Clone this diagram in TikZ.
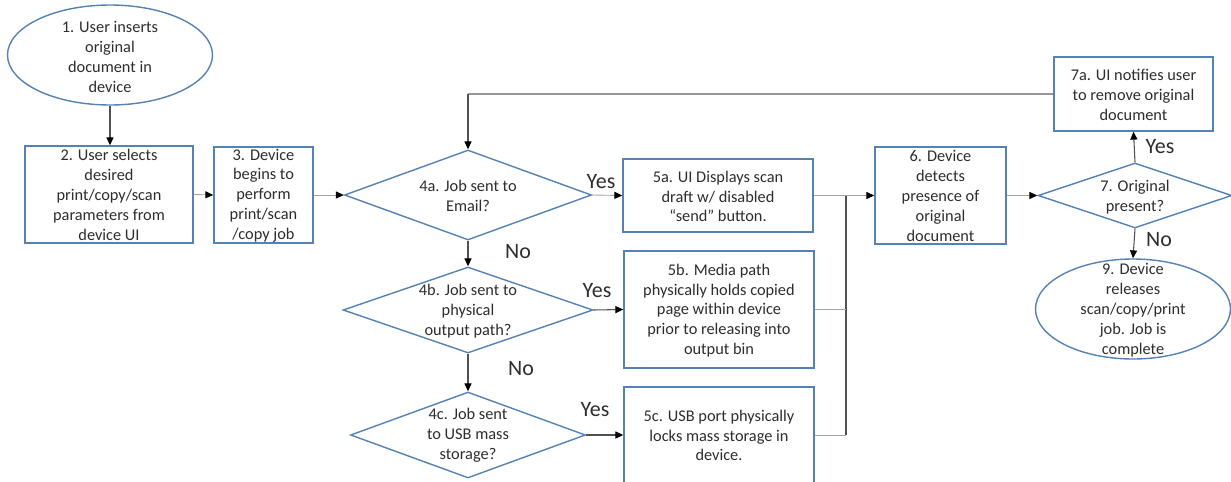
\documentclass[tikz,border=0pt]{standalone}
\usepackage{fontspec}
\setmainfont{Carlito}
\usetikzlibrary{shapes.geometric,arrows.meta}
\definecolor{bord}{RGB}{84,130,181}
\definecolor{txtc}{RGB}{45,45,45}
\definecolor{lgray}{RGB}{165,165,165}
\definecolor{mgray}{RGB}{150,150,150}
\definecolor{dgray}{RGB}{80,80,80}
\begin{document}
\begin{tikzpicture}[x=0.2mm,y=-0.2mm,
  shp/.style={draw=bord,line width=0.8pt,fill=white,inner sep=0pt},
  boxs/.style={shp,rectangle},
  dia/.style={shp,diamond},
  ell/.style={shp,ellipse},
  txt/.style={font=\fontsize{9.3}{11.3}\selectfont,align=center,text=txtc,inner sep=0pt},
  yn/.style={font=\fontsize{12.5}{14}\selectfont,text=txtc,inner sep=0pt},
  tip/.style={-{Triangle[length=4.5pt,width=4pt,color=black]}},
  lg/.style={draw=lgray,line width=0.5pt},
  dg/.style={draw=dgray,line width=0.6pt},
  fb/.style={draw=mgray,line width=1.1pt}
]
\useasboundingbox (0,0) rectangle (1231,481);
\clip (0,0) rectangle (1231,481);

% shapes
\node[ell,minimum width=205*0.2mm,minimum height=100*0.2mm] (e1) at (110,55) {};
\node[boxs,minimum width=168*0.2mm,minimum height=97*0.2mm] (b2) at (109,194.5) {};
\node[boxs,minimum width=99*0.2mm,minimum height=96*0.2mm] (b3) at (263.5,195) {};
\node[dia,minimum width=247*0.2mm,minimum height=90*0.2mm] (d4a) at (468,195) {};
\node[dia,minimum width=250*0.2mm,minimum height=86*0.2mm] (d4b) at (468,310) {};
\node[dia,minimum width=235*0.2mm,minimum height=86*0.2mm] (d4c) at (468,435) {};
\node[boxs,minimum width=190*0.2mm,minimum height=73*0.2mm] (b5a) at (718,195.5) {};
\node[boxs,minimum width=190*0.2mm,minimum height=117*0.2mm] (b5b) at (719,309.5) {};
\node[boxs,minimum width=190*0.2mm,minimum height=96*0.2mm] (b5c) at (719,435) {};
\node[boxs,minimum width=131*0.2mm,minimum height=97*0.2mm] (b6) at (940.5,195.5) {};
\node[dia,minimum width=194*0.2mm,minimum height=65*0.2mm] (d7) at (1135,195.5) {};
\node[boxs,minimum width=159*0.2mm,minimum height=74*0.2mm] (b7a) at (1133.5,94) {};
\node[ell,minimum width=195*0.2mm,minimum height=100*0.2mm] (e9) at (1133,309) {};

% texts
\node[txt] (t1) at (110,57) {1. User inserts\\original\\document in\\device};
\node[txt] (t2) at (109,195) {2. User selects\\desired\\print/copy/scan\\parameters from\\device UI};
\node[txt] (t3) at (263.5,195.5) {3. Device\\begins to\\perform\\print/scan\\/copy job};
\node[txt] (t4a) at (468,196) {4a. Job sent to\\Email?};
\node[txt] (t4b) at (468,311) {4b. Job sent to\\physical\\output path?};
\node[txt] (t4c) at (468,435.5) {4c. Job sent\\to USB mass\\storage?};
\node[txt] (t5a) at (718,196.5) {5a. UI Displays scan\\draft w/ disabled\\“send” button.};
\node[txt] (t5b) at (719,310.5) {5b. Media path\\physically holds copied\\page within device\\prior to releasing into\\output bin};
\node[txt] (t5c) at (719,435.5) {5c. USB port physically\\locks mass storage in\\device.};
\node[txt] (t6) at (940.5,196) {6. Device\\detects\\presence of\\original\\document};
\node[txt] (t7) at (1135,197) {7. Original\\present?};
\node[txt] (t7a) at (1133.5,95) {7a. UI notifies user\\to remove original\\document};
\node[txt] (t9) at (1133,310) {9. Device\\releases\\scan/copy/print\\job. Job is\\complete};

% yes/no labels
\node[yn] (y4a) at (601,182) {Yes};
\node[yn] (n4a) at (518,252) {No};
\node[yn] (y4b) at (597,291) {Yes};
\node[yn] (n4b) at (521,369) {No};
\node[yn] (y4c) at (595,410) {Yes};
\node[yn] (y7) at (1160,147) {Yes};
\node[yn] (n7) at (1159,240) {No};

% connectors
\coordinate (j1) at (846,195.5);
\coordinate (fbc) at (468,94);
\draw[dg,tip] (e1.south) -- (e1.south |- b2.north);
\draw[lg,tip] (b2.east) -- (b3.west);
\draw[lg,tip] (b3.east) -- (d4a.west);
\draw[lg,tip] (d4a.east) -- (b5a.west);
\draw[dg,tip] (d4a.south) -- (d4b.north);
\draw[dg,tip] (d4b.east) -- (b5b.west);
\draw[dg,tip] (d4b.south) -- (d4c.north);
\draw[dg,tip] (d4c.east) -- (b5c.west);
\draw[lg] (b5a.east) -- (j1);
\draw[dg] (j1) -- (j1 |- b5c.east);
\draw[lg] (b5b.east) -- (j1 |- b5b.east);
\draw[lg] (b5c.east) -- (j1 |- b5c.east);
\draw[lg,tip] (j1) -- (b6.west);
\draw[lg,tip] (b6.east) -- (d7.west);
\draw[dg,tip] (d7.north) -- (b7a.south);
\draw[dg,tip] (d7.south) -- (e9.north);
\draw[fb] (b7a.west) -- (fbc);
\draw[dg,tip] (fbc) -- (d4a.north);
\end{tikzpicture}
\end{document}
